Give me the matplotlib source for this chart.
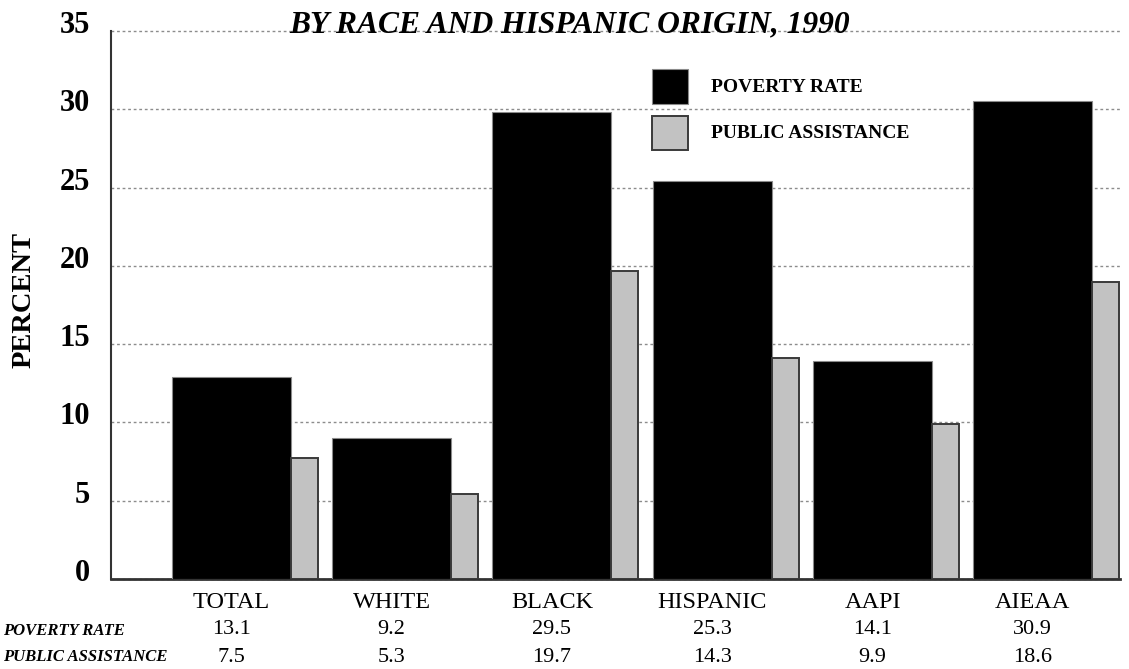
import matplotlib
matplotlib.use("Agg")
import matplotlib.pyplot as plt
from matplotlib.patches import Rectangle
from matplotlib.transforms import ScaledTranslation
import numpy as np

# ---- data ----
categories = ["TOTAL", "WHITE", "BLACK", "HISPANIC", "AAPI", "AIEAA"]
poverty_rate = [12.9, 9.0, 29.8, 25.4, 13.9, 30.5]        # bar heights as drawn
public_assistance = [7.7, 5.4, 19.7, 14.1, 9.9, 19.0]     # bar heights as drawn
poverty_table = ["13.1", "9.2", "29.5", "25.3", "14.1", "30.9"]
assist_table = ["7.5", "5.3", "19.7", "14.3", "9.9", "18.6"]
row_labels = ["POVERTY RATE", "PUBLIC ASSISTANCE"]
series_labels = ["POVERTY RATE", "PUBLIC ASSISTANCE"]
yticks = [0, 5, 10, 15, 20, 25, 30, 35]
title = "BY RACE AND HISPANIC ORIGIN, 1990"

W, H = 1129, 669
fig = plt.figure(figsize=(W / 100, H / 100), dpi=100)
serif = "Liberation Serif"

def fx(px):
    return px / W

def fy(py):
    return 1 - py / H

ax = fig.add_axes([fx(111), fy(579), fx(1120) - fx(111), fy(31) - fy(579)])

x = np.arange(len(categories))
bw_black = 0.742
bw_gray = 0.168
ax.bar(x, poverty_rate, width=bw_black, align="edge", color="black",
       edgecolor="#8a8a8a", linewidth=0.8, zorder=3)
ax.bar(x + bw_black, public_assistance, width=bw_gray, align="edge",
       color="#c2c2c2", edgecolor="#3a3a3a", linewidth=1.4, zorder=3)

ax.set_xlim(-0.38, 5.915)
ax.set_ylim(0, 35)
ax.set_yticks(yticks)
ax.set_yticklabels([str(t) for t in yticks], fontfamily=serif,
                   fontweight="bold", fontsize=22)
ax.tick_params(axis="y", length=0, pad=15)
shift = ScaledTranslation(0, -2 / 100, fig.dpi_scale_trans)
for lbl in ax.get_yticklabels():
    lbl.set_va("baseline")
    lbl.set_transform(lbl.get_transform() + shift)
ax.set_xticks([])
ax.yaxis.grid(True, linestyle=(0, (2, 2)), color="#8c8c8c", linewidth=1.0)
for gl in ax.get_ygridlines():
    gl.set_clip_on(False)
ax.set_axisbelow(True)

for s in ["top", "right"]:
    ax.spines[s].set_visible(False)
ax.spines["left"].set_color("#333333")
ax.spines["left"].set_linewidth(1.5)
ax.spines["bottom"].set_color("#333333")
ax.spines["bottom"].set_linewidth(2.0)

# y label
fig.text(fx(24), fy(300), "PERCENT", rotation=90, ha="center", va="center",
         fontfamily=serif, fontweight="bold", fontsize=20.5)

# title
fig.text(fx(570), fy(32), title, ha="center", va="baseline",
         fontfamily=serif, fontweight="bold", fontstyle="italic", fontsize=22.7)

# table below axis
trans = ax.get_xaxis_transform()
def ay(py):
    return (579 - py) / 548.0

centers = x + bw_black / 2
for c, cat, p, a in zip(centers, categories, poverty_table, assist_table):
    ax.text(c, ay(603), cat, transform=trans, ha="center", va="center",
            fontfamily=serif, fontsize=17.5, clip_on=False)
    ax.text(c, ay(629), p, transform=trans, ha="center", va="center",
            fontfamily=serif, fontsize=16, clip_on=False)
    ax.text(c, ay(657), a, transform=trans, ha="center", va="center",
            fontfamily=serif, fontsize=16, clip_on=False)

fig.text(fx(3), fy(631), row_labels[0], ha="left", va="center",
         fontfamily=serif, fontweight="bold", fontstyle="italic", fontsize=12)
fig.text(fx(3), fy(657), row_labels[1], ha="left", va="center",
         fontfamily=serif, fontweight="bold", fontstyle="italic", fontsize=12)

# legend (manual)
fig.patches.append(Rectangle((fx(652), fy(104)), fx(36), fy(69) - fy(104),
                             transform=fig.transFigure, facecolor="black",
                             edgecolor="#8a8a8a", linewidth=0.8))
fig.patches.append(Rectangle((fx(652), fy(150)), fx(36), fy(116) - fy(150),
                             transform=fig.transFigure, facecolor="#c2c2c2",
                             edgecolor="#3a3a3a", linewidth=1.4))
fig.text(fx(711), fy(87), series_labels[0], ha="left", va="center",
         fontfamily=serif, fontweight="bold", fontsize=14)
fig.text(fx(711), fy(133), series_labels[1], ha="left", va="center",
         fontfamily=serif, fontweight="bold", fontsize=14)

fig.savefig("out.png", dpi=100, facecolor="white")
